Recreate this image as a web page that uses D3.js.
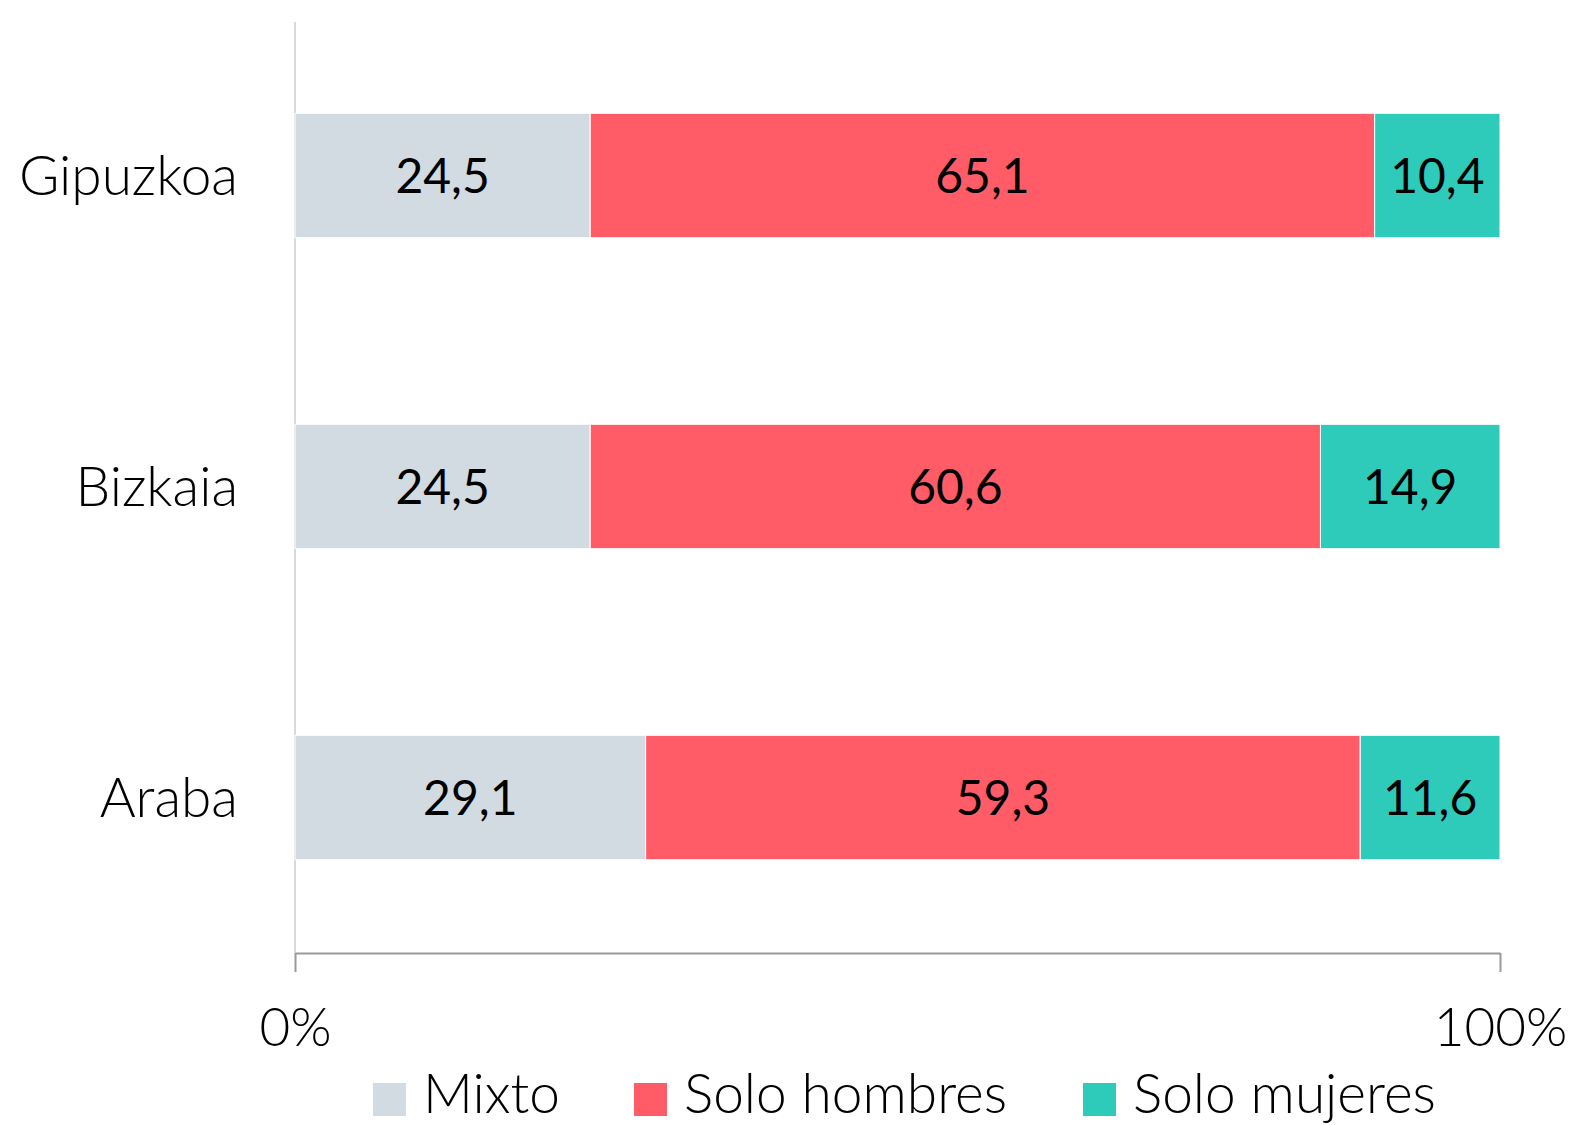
<!DOCTYPE html>
<html>
<head>
<meta charset="utf-8">
<script src="https://cdn.jsdelivr.net/npm/d3@7"></script>
<style>
  body { margin: 0; background: #fff; }
  svg text { font-family: Lato, "Open Sans", sans-serif; fill: #000; }
</style>
</head>
<body>
<div id="chart"></div>
<script>
// Stacked 100% bars by territory
const categories = ['Gipuzkoa', 'Bizkaia', 'Araba'];
const seriesNames = ['Mixto', 'Solo hombres', 'Solo mujeres'];
const mixto = [24.5, 24.5, 29.1];
const soloHombres = [65.1, 60.6, 59.3];
const soloMujeres = [10.4, 14.9, 11.6];
const tickLabels = ['0%', '100%'];
const colors = ['#d3dbe2', '#ff5c67', '#2ecbba'];

const W = 1571, H = 1125;
const plot = { left: 295, right: 1500, top: 20, bottom: 953 };

const svg = d3.select('#chart').append('svg')
    .attr('width', W)
    .attr('height', H);

const rows = categories.map((c, i) => ({
    cat: c,
    'Mixto': mixto[i],
    'Solo hombres': soloHombres[i],
    'Solo mujeres': soloMujeres[i]
}));

const x = d3.scaleLinear().domain([0, 100]).range([plot.left, plot.right]);
const y = d3.scaleBand().domain(categories).range([plot.top, plot.bottom])
    .paddingInner(0.6).paddingOuter(0.3);

const stacked = d3.stack().keys(seriesNames)(rows);

// left axis line
svg.append('line')
    .attr('x1', plot.left).attr('x2', plot.left)
    .attr('y1', plot.top + 2).attr('y2', plot.bottom)
    .attr('stroke', '#d9d9d9').attr('stroke-width', 2);

// bars
const layer = svg.selectAll('.layer')
    .data(stacked)
    .enter().append('g')
    .attr('class', 'layer')
    .attr('fill', (d, i) => colors[i]);

layer.selectAll('rect')
    .data(d => d)
    .enter().append('rect')
    .attr('x', d => x(d[0]))
    .attr('y', d => y(d.data.cat))
    .attr('width', d => x(d[1]) - x(d[0]))
    .attr('height', y.bandwidth())
    .attr('stroke', '#fff')
    .attr('stroke-width', 1);

layer.selectAll('text')
    .data(d => d)
    .enter().append('text')
    .attr('x', d => (x(d[0]) + x(d[1])) / 2)
    .attr('y', d => y(d.data.cat) + y.bandwidth() / 2)
    .attr('dy', '0.37em')
    .attr('text-anchor', 'middle')
    .style('font-size', '48px')
    .text(d => d3.format('.1f')(d[1] - d[0]).replace('.', ','));

// category labels
svg.selectAll('.cat')
    .data(categories)
    .enter().append('text')
    .attr('class', 'cat')
    .attr('x', 238)
    .attr('y', d => y(d) + y.bandwidth() / 2)
    .attr('dy', '0.36em')
    .attr('text-anchor', 'end')
    .style('font-size', '55px')
    .style('font-weight', 300)
    .text(d => d);

// bottom axis
const xAxis = d3.axisBottom(x)
    .tickValues([0, 100])
    .tickFormat((d, i) => tickLabels[i])
    .tickSize(19)
    .tickSizeOuter(0);

const ax = svg.append('g')
    .attr('transform', `translate(0,${plot.bottom})`)
    .call(xAxis);
ax.select('.domain').attr('stroke', '#999').attr('stroke-width', 2);
ax.selectAll('.tick line').attr('stroke', '#999').attr('stroke-width', 2);
ax.selectAll('.tick text')
    .attr('y', 93)
    .attr('dy', 0)
    .style('font-size', '53px')
    .style('font-weight', 300)
    .attr('fill', '#000');

// legend
const legendX = [373, 634, 1083];
const legend = svg.selectAll('.legend')
    .data(seriesNames)
    .enter().append('g')
    .attr('class', 'legend')
    .attr('transform', (d, i) => `translate(${legendX[i]},1083)`);
legend.append('rect')
    .attr('width', 33).attr('height', 33)
    .attr('fill', (d, i) => colors[i]);
legend.append('text')
    .attr('x', 50)
    .attr('y', 30)
    .style('font-size', '55px')
    .style('font-weight', 300)
    .text(d => d);
</script>
</body>
</html>
